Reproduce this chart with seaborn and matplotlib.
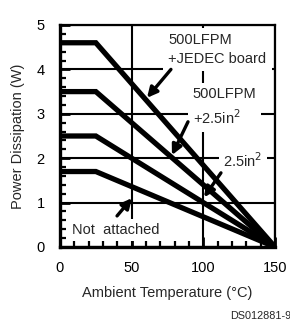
import matplotlib
matplotlib.use("Agg")
import matplotlib.pyplot as plt
import seaborn as sns
import pandas as pd
from matplotlib.ticker import MultipleLocator

# ---- data ----
temps = [0, 25, 150]
jedec = [4.6, 4.6, 0.0]
lfpm_25 = [3.5, 3.5, 0.0]
in25 = [2.5, 2.5, 0.0]
not_attached = [1.7, 1.7, 0.0]
series_names = ["500LFPM +JEDEC board", "500LFPM +2.5in²", "2.5in²", "Not attached"]
series_vals = [jedec, lfpm_25, in25, not_attached]

x_ticks = [0, 50, 100, 150]
y_ticks = [0, 1, 2, 3, 4, 5]

rows = []
for name, vals in zip(series_names, series_vals):
    for t, v in zip(temps, vals):
        rows.append({"temp": t, "power": v, "series": name})
df = pd.DataFrame(rows)

sns.set_style("white")
plt.rcParams["font.family"] = ["Liberation Sans", "DejaVu Sans"]

fig = plt.figure(figsize=(2.9, 3.24), dpi=100)
ax = fig.add_axes([60/290, 1-247/324, 215/290, 222/324])

sns.lineplot(data=df, x="temp", y="power", hue="series",
             palette=["black"]*4, legend=False, lw=3.8, ax=ax,
             zorder=3, solid_joinstyle="miter")

ax.set_xlim(0, 150)
ax.set_ylim(0, 5)
ax.set_xticks(x_ticks)
ax.set_yticks(y_ticks)
ax.xaxis.set_minor_locator(MultipleLocator(10))
ax.yaxis.set_minor_locator(MultipleLocator(0.2))
ax.tick_params(axis="both", which="both", direction="in", color="black",
               labelsize=10.5, labelcolor="black", bottom=True, left=True,
               top=False, right=False)
ax.tick_params(axis="x", which="major", length=7, width=2, pad=10)
ax.tick_params(axis="y", which="major", length=7, width=2, pad=11)
ax.tick_params(axis="both", which="minor", length=4, width=1.6)
ax.grid(True, which="major", color="black", lw=1.5, zorder=1)
ax.set_axisbelow(True)

for side in ["left", "bottom"]:
    ax.spines[side].set_linewidth(2.4)
    ax.spines[side].set_color("black")
for side in ["top", "right"]:
    ax.spines[side].set_linewidth(1.6)
    ax.spines[side].set_color("black")

ax.set_xlabel("Ambient Temperature (°C)", fontsize=10.5, labelpad=8)
ax.set_ylabel("Power Dissipation (W)", fontsize=10.5, labelpad=8)

box = dict(fc="white", ec="none", pad=3)
arrow = dict(arrowstyle="-|>", color="black", lw=2.4, mutation_scale=15,
             shrinkA=0, shrinkB=0)

ax.text(75.5, 4.45, "500LFPM\n+JEDEC board", fontsize=10.5, va="center",
        ha="left", bbox=dict(fc="white", ec="none", pad=4), zorder=4,
        linespacing=1.4)
ax.text(92.5, 3.15, "500LFPM\n+2.5in$^2$", fontsize=10.5, va="center",
        ha="left", bbox=dict(fc="white", ec="none", pad=3), zorder=4,
        linespacing=1.5)
ax.text(114, 1.95, "2.5in$^2$", fontsize=10.5, va="center", ha="left",
        bbox=box, zorder=4)
ax.text(8.5, 0.38, "Not  attached", fontsize=10.5, va="center", ha="left",
        bbox=box, zorder=4)

ax.annotate("", xy=(60.7, 3.36), xytext=(77.4, 4.0), arrowprops=arrow, zorder=5)
ax.annotate("", xy=(78.1, 2.07), xytext=(89.3, 2.82), arrowprops=arrow, zorder=5)
ax.annotate("", xy=(100.5, 1.12), xytext=(112.3, 1.67), arrowprops=arrow, zorder=5)
ax.annotate("", xy=(50.2, 1.1), xytext=(39.8, 0.7), arrowprops=arrow, zorder=5)

fig.text(230/290, 1-316/324, "DS012881-9", fontsize=7.8, ha="left", va="center")

fig.savefig("out.png", dpi=100)
